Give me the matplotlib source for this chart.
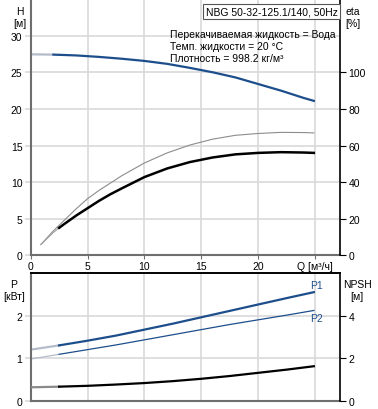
import matplotlib
matplotlib.use("Agg")
import numpy as np
from matplotlib import pyplot as plt

plt.rcParams['font.family'] = ['Liberation Sans', 'DejaVu Sans']
plt.rcParams['font.size'] = 7.5

# ---- data ----
q_h = [0, 2, 4, 6, 8, 10, 12, 14, 16, 18, 20, 22, 24, 24.9]
head = [27.45, 27.41, 27.3, 27.1, 26.85, 26.55, 26.15, 25.6, 25.0, 24.3, 23.4, 22.5, 21.5, 21.1]

q_eta = [0.9, 2, 2.5, 3, 4, 5, 6, 7, 8, 10, 12, 14, 16, 18, 20, 22, 24, 24.9]
eta_p1 = [6, 13.5, 16.5, 19.5, 25.5, 31, 35.5, 39.5, 43.5, 50.5, 56, 60.3, 63.5, 65.6, 66.6, 67.2, 67.1, 66.9]
eta_p2 = [6, 12.6, 15.1, 17.4, 21.8, 25.8, 29.8, 33.4, 36.6, 42.8, 47.5, 51, 53.5, 55.2, 56, 56.4, 56.2, 56]

q = [0, 2.5, 5, 7.5, 10, 12.5, 15, 17.5, 20, 22.5, 24.9]
p1 = [1.2, 1.3, 1.41, 1.53, 1.67, 1.81, 1.96, 2.11, 2.26, 2.41, 2.55]
p2 = [0.98, 1.09, 1.2, 1.31, 1.43, 1.55, 1.67, 1.79, 1.9, 2.01, 2.12]
npsh = [0.63, 0.66, 0.7, 0.76, 0.83, 0.92, 1.03, 1.16, 1.31, 1.46, 1.62]

x_ticks = [0, 5, 10, 15, 20]
info = ['Перекачиваемая жидкость = Вода',
        'Темп. жидкости = 20 °C',
        'Плотность = 998.2 кг/м³']
title = 'NBG 50-32-125.1/140, 50Hz'

BLUE = '#1d4e8c'
LIGHT = '#b4bccb'
GRID = '#d9d9d9'
SPINE = '#6e6e6e'


def style_axes(ax, top_spine):
    ax.set_xlim(0, 27.2)
    ax.set_xticks([0, 5, 10, 15, 20, 25])
    ax.grid(True, color=GRID, linewidth=1.2)
    ax.set_axisbelow(True)
    ax.spines['left'].set_color(SPINE)
    ax.spines['bottom'].set_color(SPINE)
    ax.spines['left'].set_linewidth(1.5)
    ax.spines['bottom'].set_linewidth(1.5)
    ax.spines['right'].set_visible(False)
    ax.spines['top'].set_visible(top_spine)
    ax.spines['top'].set_linewidth(1.2)
    ax.tick_params(axis='y', color=GRID, length=4, width=1.2, pad=2)


fig = plt.figure(figsize=(3.78, 4.10), dpi=100)

# ---- top: head and efficiency ----
ax = fig.add_axes([0.0812, 0.3744, 0.8183, 0.6256])
style_axes(ax, False)
ax.set_ylim(0, 35)
ax.set_yticks([0, 5, 10, 15, 20, 25, 30])
ax.set_xticklabels([str(t) for t in x_ticks] + ['Q [м³/ч]'])
ax.tick_params(axis='x', color=SPINE, length=3, pad=1)

ax.plot(q_h[:2], head[:2], color=LIGHT, lw=1.6, solid_capstyle='butt')
ax.plot(q_h[1:], head[1:], color=BLUE, lw=1.6)

ax2 = ax.twinx()
ax2.set_ylim(0, 140)
ax2.set_yticks([0, 20, 40, 60, 80, 100])
for s in ['left', 'top', 'bottom']:
    ax2.spines[s].set_visible(False)
ax2.spines['right'].set_linewidth(1.2)
ax2.tick_params(axis='y', length=4, pad=2)
ax2.plot(q_eta, eta_p1, color='#8c8c8c', lw=0.8)
ax2.plot(q_eta[:3], eta_p2[:3], color='#a0a0a0', lw=0.8)
ax2.plot(q_eta[2:], eta_p2[2:], color='black', lw=1.8)

fig.text(0.053, 0.983, 'H', ha='center', va='top')
fig.text(0.053, 0.953, '[м]', ha='center', va='top')
fig.text(0.914, 0.983, 'eta', ha='left', va='top')
fig.text(0.914, 0.953, '[%]', ha='left', va='top')

fig.text(0.545, 0.982, title, ha='left', va='top',
         bbox=dict(boxstyle='square,pad=0.25', fc='white', ec='#555555', lw=0.8))
for i, line in enumerate(info):
    fig.text(0.449, 0.926 - i * 0.029, line, ha='left', va='top')

# ---- bottom: power and NPSH ----
bx = fig.add_axes([0.0812, 0.0202, 0.8183, 0.3115])
style_axes(bx, True)
bx.set_ylim(0, 3)
bx.set_yticks([0, 1, 2])
bx.tick_params(axis='x', length=0, labelbottom=False)

bx.plot(q[:2], p1[:2], color=LIGHT, lw=1.6)
bx.plot(q[1:], p1[1:], color=BLUE, lw=1.6)
bx.plot(q[:2], p2[:2], color=LIGHT, lw=0.9)
bx.plot(q[1:], p2[1:], color=BLUE, lw=0.9)
bx.text(q[-1] - 0.3, p1[-1] + 0.04, 'P1', color=BLUE, ha='left', va='bottom')
bx.text(q[-1] - 0.3, p2[-1] - 0.06, 'P2', color=BLUE, ha='left', va='top')

bx2 = bx.twinx()
bx2.set_ylim(0, 6)
bx2.set_yticks([0, 2, 4])
for s in ['left', 'bottom']:
    bx2.spines[s].set_visible(False)
bx2.spines['right'].set_linewidth(1.2)
bx2.spines['top'].set_linewidth(1.2)
bx2.tick_params(axis='y', length=4, pad=2)
bx2.plot(q[:2], npsh[:2], color='#8a8a8a', lw=1.6)
bx2.plot(q[1:], npsh[1:], color='black', lw=1.6)

fig.text(0.037, 0.318, 'P', ha='center', va='top')
fig.text(0.037, 0.288, '[кВт]', ha='center', va='top')
fig.text(0.945, 0.318, 'NPSH', ha='center', va='top')
fig.text(0.945, 0.288, '[м]', ha='center', va='top')

fig.savefig('out.png', dpi=100)
